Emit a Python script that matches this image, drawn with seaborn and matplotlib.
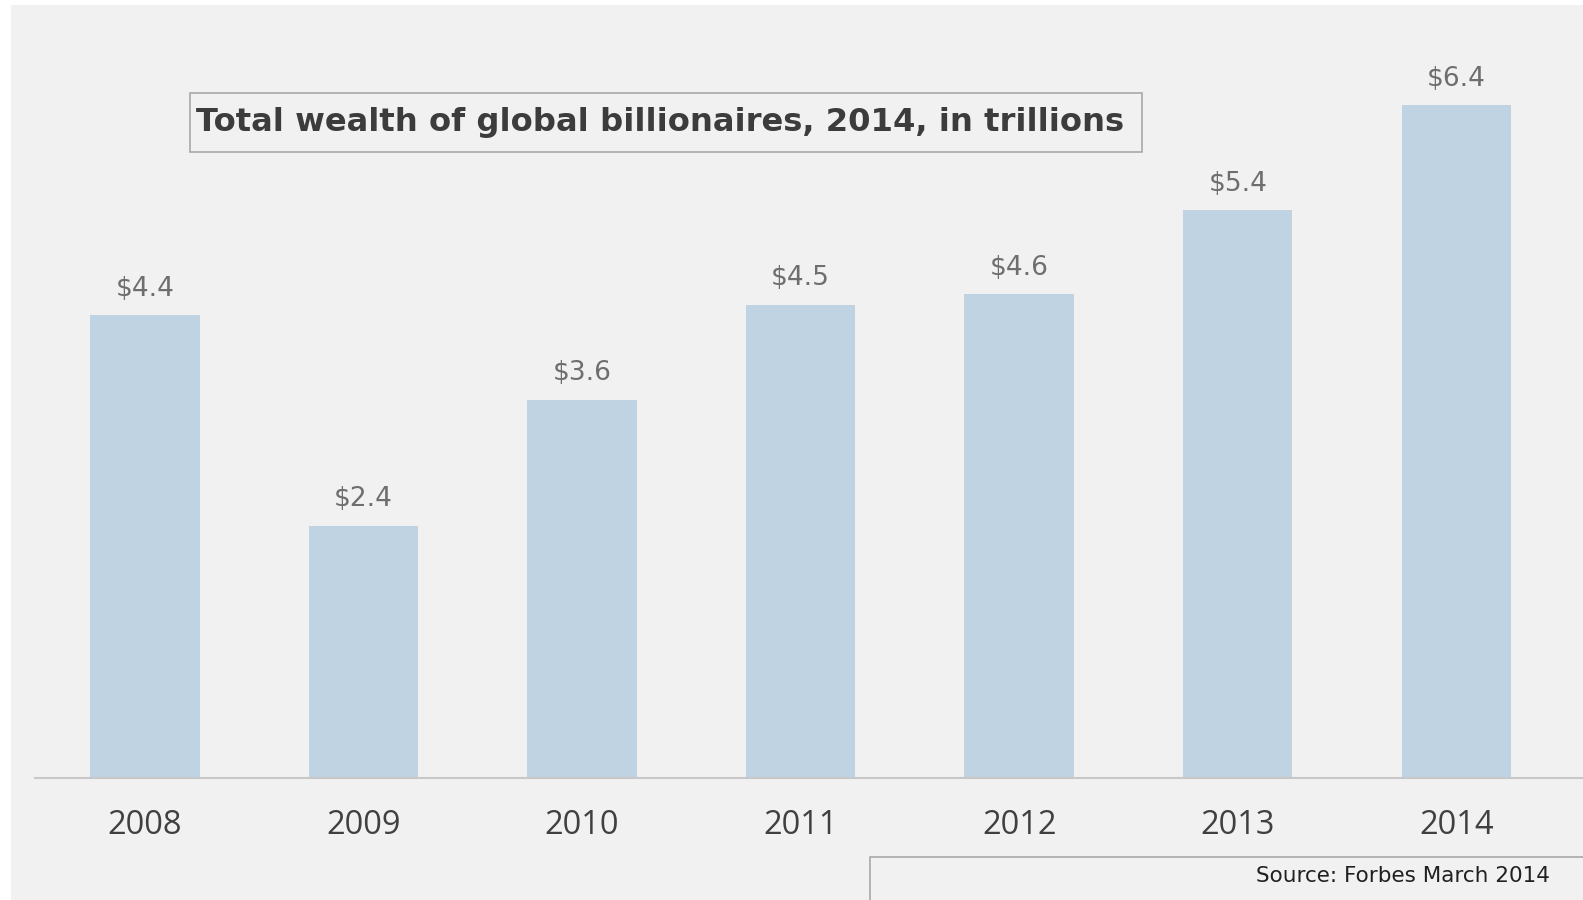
import pandas as pd
import seaborn as sns
import matplotlib.pyplot as plt

years = ["2008", "2009", "2010", "2011", "2012", "2013", "2014"]
wealth = [4.4, 2.4, 3.6, 4.5, 4.6, 5.4, 6.4]
value_labels = ["$4.4", "$2.4", "$3.6", "$4.5", "$4.6", "$5.4", "$6.4"]
title_text = "Total wealth of global billionaires, 2014, in trillions"
source_text = "Source: Forbes March 2014"

df = pd.DataFrame({"Year": years, "Wealth": wealth})

sns.set_theme(style="white")
plt.rcParams["font.family"] = ["Open Sans", "DejaVu Sans"]

bg = "#f1f1f1"
fig = plt.figure(figsize=(15.83, 9), dpi=100, facecolor="white")
# gray panel, with thin white margin at the top and left like the screenshot
fig.patches.append(plt.Rectangle((11 / 1583, 0), 1, 1 - 5 / 900,
                                 transform=fig.transFigure, facecolor=bg,
                                 edgecolor="none", zorder=-1))

ax = fig.add_axes([35 / 1583, 1 - 778 / 900, 1548 / 1583, 718 / 900])
ax.set_facecolor("none")

sns.barplot(data=df, x="Year", y="Wealth", color="#c0d3e3", saturation=1,
            width=0.5, linewidth=0, ax=ax)

# value labels above bars
for i, (v, lab) in enumerate(zip(wealth, value_labels)):
    ax.text(i, v + 0.13, lab, ha="center", va="bottom", fontsize=19,
            family=["DejaVu Sans"], color="#6e6e6e")

ax.set_xlim(-0.503, 6.58)
ax.set_ylim(0, 6.83)
ax.set_xlabel("")
ax.set_ylabel("")
ax.set_yticks([])
ax.tick_params(axis="x", length=0, pad=22, labelsize=23.5, labelcolor="#404040")
for s in ["top", "right", "left"]:
    ax.spines[s].set_visible(False)
ax.spines["bottom"].set_color("#c8c8c8")
ax.spines["bottom"].set_linewidth(1.5)

# title in a box
fig.patches.append(plt.Rectangle((190 / 1583, 1 - 152 / 900), 952 / 1583, 59 / 900,
                                 transform=fig.transFigure, facecolor="none",
                                 edgecolor="#a8a8a8", linewidth=1.2))
fig.text(196 / 1583, 1 - 122 / 900, title_text, fontsize=23.2, fontweight="bold",
         family=["DejaVu Sans"], color="#3c3c3c", ha="left", va="center")

# source box
fig.patches.append(plt.Rectangle((870 / 1583, -0.01), 1, (900 - 857) / 900 + 0.01,
                                 transform=fig.transFigure, facecolor=bg,
                                 edgecolor="#a8a8a8", linewidth=1.2))
fig.text(1550 / 1583, 1 - 876 / 900, source_text, fontsize=15.5, color="#202020",
         family=["DejaVu Sans"], ha="right", va="center")

fig.savefig("out.png", dpi=100, facecolor="white")
